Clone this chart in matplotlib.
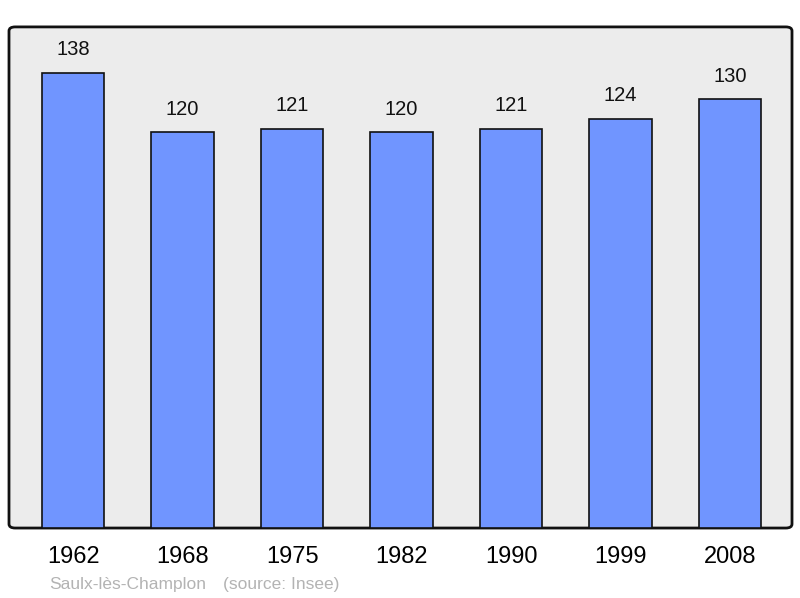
import matplotlib.pyplot as plt
from matplotlib.patches import FancyBboxPatch

plt.rcParams['font.family'] = ['Liberation Sans', 'DejaVu Sans']

years = ['1962', '1968', '1975', '1982', '1990', '1999', '2008']
population = [138, 120, 121, 120, 121, 124, 130]

fig = plt.figure(figsize=(8, 5.98), dpi=100)
ax = fig.add_axes([0.01125, 0.117, 0.97875, 0.838])
ax.set_facecolor('none')
for s in ax.spines.values():
    s.set_visible(False)

# rounded grey frame behind the bars
frame = FancyBboxPatch((0, 0), 1, 1, boxstyle='round,pad=0,rounding_size=0.008',
                       transform=ax.transAxes, facecolor='#ececec',
                       edgecolor='#111111', linewidth=2, zorder=0, clip_on=False)
ax.add_patch(frame)

x = range(len(years))
bars = ax.bar(x, population, width=0.57, color='#7095ff', edgecolor='#111111',
              linewidth=1.2, zorder=2)
for xi, v in zip(x, population):
    ax.annotate(str(v), (xi, v), xytext=(0, 10), textcoords='offset points',
                ha='center', va='bottom', fontsize=14.5, color='#111111')

ax.set_xlim(-0.585, 6.565)
ax.set_ylim(0, 152)
ax.set_yticks([])
ax.set_xticks(list(x))
ax.set_xticklabels(years, fontsize=17)
ax.tick_params(axis='x', length=0, pad=13)

fig.text(49 / 800, 1 - 584 / 598, 'Saulx-lès-Champlon', fontsize=12.5,
         color='#b3b3b3', va='center', ha='left')
fig.text(223 / 800, 1 - 584 / 598, '(source: Insee)', fontsize=12.5,
         color='#b3b3b3', va='center', ha='left')

fig.savefig('out.png', dpi=100)
